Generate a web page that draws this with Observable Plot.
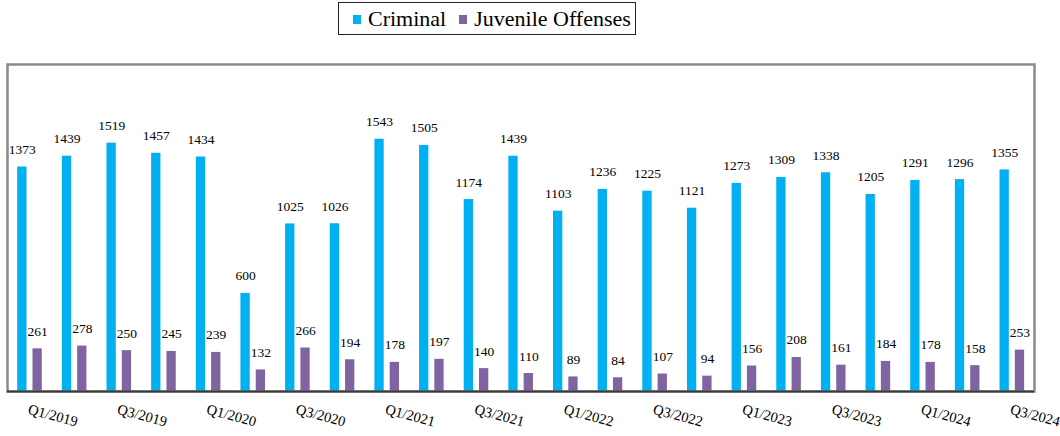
<!DOCTYPE html>
<html>
<head>
<meta charset="utf-8">
<script src="https://cdn.jsdelivr.net/npm/d3@7"></script>
<script src="https://cdn.jsdelivr.net/npm/@observablehq/plot@0.6"></script>
<style>
  html, body { margin: 0; padding: 0; background: #fff; }
  body { width: 1060px; height: 436px; overflow: hidden; font-family: "Liberation Serif", "Times New Roman", Times, "DejaVu Serif", serif; }
  #legend-wrap { position: relative; height: 37px; }
  #legend { position: absolute; left: 338px; top: 2px; width: 298px; height: 33px; box-sizing: border-box;
    border: 1px solid #222; display: flex; align-items: center; padding-left: 14px; padding-top: 1px; }
  .sw { width: 8px; height: 9px; display: inline-block; margin-right: 7px; }
  .lab { font-size: 22px; color: #000; line-height: 1; font-family: "Liberation Serif", "Times New Roman", Times, "DejaVu Serif", serif; }
  #chart svg { display: block; }
</style>
</head>
<body>
<div id="legend-wrap"><div id="legend"></div></div>
<div id="chart"></div>
<script>
const quarters = ["Q1/2019","Q2/2019","Q3/2019","Q4/2019","Q1/2020","Q2/2020","Q3/2020","Q4/2020",
  "Q1/2021","Q2/2021","Q3/2021","Q4/2021","Q1/2022","Q2/2022","Q3/2022","Q4/2022",
  "Q1/2023","Q2/2023","Q3/2023","Q4/2023","Q1/2024","Q2/2024","Q3/2024"];
const criminal = [1373,1439,1519,1457,1434,600,1025,1026,1543,1505,1174,1439,1103,1236,1225,1121,1273,1309,1338,1205,1291,1296,1355];
const juvenile = [261,278,250,245,239,132,266,194,178,197,140,110,89,84,107,94,156,208,161,184,178,158,253];
const tickLabels = quarters.filter((d, i) => i % 2 === 0);
const seriesNames = ["Criminal", "Juvenile Offenses"];
const seriesColors = ["#00B0F0", "#8064A2"];

const rows = quarters.map((q, i) => ({quarter: q, criminal: criminal[i], juvenile: juvenile[i]}));

// legend
const legend = document.getElementById("legend");
seriesNames.forEach((name, i) => {
  const sw = document.createElement("span");
  sw.className = "sw";
  sw.style.background = seriesColors[i];
  if (i > 0) sw.style.marginLeft = "13px";
  const lab = document.createElement("span");
  lab.className = "lab";
  lab.textContent = name;
  legend.appendChild(sw);
  legend.appendChild(lab);
});

const FONT = "'Liberation Serif', 'Times New Roman', Times, 'DejaVu Serif', serif";
const W = 1060, H = 399, mL = 7, mR = 26;
const step = (W - mL - mR) / quarters.length;
const barW = 9.3;
const offC = -7.5, offJ = 7.8;
function insets(off) {
  const c = step / 2 + off;
  return {insetLeft: c - barW / 2, insetRight: step - c - barW / 2};
}

const chart = Plot.plot({
  width: W,
  height: H,
  marginLeft: mL,
  marginRight: mR,
  marginTop: 27,
  marginBottom: 45,
  x: {domain: quarters, padding: 0, round: false, axis: null, label: null},
  y: {domain: [0, 2000], axis: null},
  style: {fontFamily: FONT, color: "#000", background: "#fff", overflow: "visible"},
  marks: [
    Plot.barY(rows, {x: "quarter", y: "criminal", fill: seriesColors[0], ...insets(offC)}),
    Plot.barY(rows, {x: "quarter", y: "juvenile", fill: seriesColors[1], ...insets(offJ)}),
    Plot.text(rows, {x: "quarter", y: "criminal", text: d => String(d.criminal), dx: offC, dy: -13, lineAnchor: "bottom", fontSize: 13.5, fontFamily: FONT, fill: "#000"}),
    Plot.text(rows, {x: "quarter", y: "juvenile", text: d => String(d.juvenile), dx: offJ, dy: -13, lineAnchor: "bottom", fontSize: 13.5, fontFamily: FONT, fill: "#000"}),
    Plot.frame({stroke: "#8a8a8a", strokeWidth: 2.5}),
    Plot.ruleY([0], {stroke: "#3a3a3a", strokeWidth: 2}),
    Plot.axisX(tickLabels, {tickSize: 0, tickPadding: 12, tickRotate: 15, textAnchor: "start", lineAnchor: "top", fontSize: 14.5, fontFamily: FONT, fill: "#000", label: null})
  ]
});
document.getElementById("chart").appendChild(chart);
</script>
</body>
</html>
